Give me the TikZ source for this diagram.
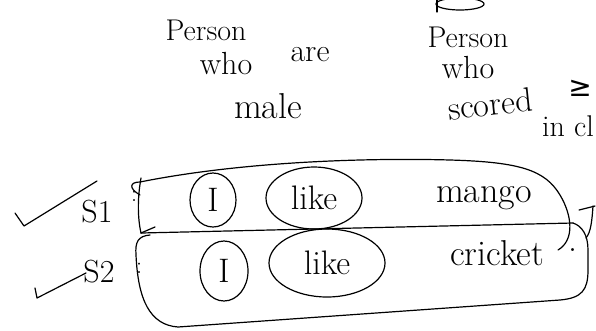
\documentclass[tikz,border=0pt]{standalone}
\usepackage{fontspec}
\newfontfamily\symfont{DejaVu Sans}
\usetikzlibrary{shapes.geometric}
\begin{document}
\begin{tikzpicture}[x=1pt,y=-1pt,
  ink/.style={line width=1.2pt, line cap=round, line join=round},
  word/.style={inner sep=0pt, font=\fontsize{#1}{#1}\selectfont},
  ring/.style={draw, ellipse, line width=1.2pt, inner sep=0pt}]
\useasboundingbox (0,0) rectangle (596,330);

% left note
\node[word=30] (p1) at (206,30) {Person};
\node[word=32] (w1) at (226,64) {who};
\node[word=32] (a1) at (310,55) {are};
\node[word=36] (m1) at (268,106) {male};

% right note, with a scribble above it
\draw[ink] (460,4) ellipse (24pt and 6pt);
\draw[ink] (437,0) -- (437,12);
\node[word=30] (p2) at (468,37) {Person};
\node[word=32] (w2) at (468,68) {who};
\node[word=34, rotate=6] (s2) at (490,104) {scored};
\node[inner sep=0pt, font=\symfont\fontsize{28}{28}\selectfont] (ge) at (580,88) {≥};
\node[word=30, anchor=west] (in) at (542,126) {in cl};

% sentence labels and ticks
\coordinate (t1a) at (15,213);
\coordinate (t1b) at (24,226);
\coordinate (t1c) at (97,181);
\draw[ink] (t1a) -- (t1b) -- (t1c);
\node[word=32] (S1) at (97,212) {S1};
\node[word=24] (c1) at (134,196) {:};

\coordinate (t2a) at (35,288);
\coordinate (t2b) at (37,298);
\coordinate (t2c) at (86,273);
\draw[ink] (t2a) -- (t2b) -- (t2c);
\node[word=32] (S2) at (99,272) {S2};
\node[word=24] (c2) at (139,268) {:};

% box round the first sentence
\draw[ink] (140,195) .. controls (128,188) and (130,182) .. (140,182)
  .. controls (250,160) and (380,158) .. (450,160)
  .. controls (520,162) and (545,170) .. (560,195)
  .. controls (572,215) and (575,240) .. (558,250);
\draw[ink] (141,178) .. controls (137,200) and (138,220) .. (141,233);
\draw[ink] (141,233) -- (155,227);
\draw[ink] (141,233) -- (573,223);

% box round the second sentence
\draw[ink] (150,235) .. controls (138,236) and (135,242) .. (136,255)
  .. controls (138,300) and (150,325) .. (178,327)
  -- (560,300)
  .. controls (582,298) and (588,290) .. (588,270)
  -- (588,250) .. controls (588,235) and (582,226) .. (573,223);

% closing bracket after the first sentence
\draw[ink] (579,210) -- (595,206);
\draw[ink] (593,206) .. controls (592,220) and (591,232) .. (586,238);

% first sentence
\node[ring, word=34, minimum width=46pt, minimum height=54pt] (i1) at (213,200) {I};
\node[ring, word=34, minimum width=96pt, minimum height=62pt] (l1) at (314,198) {like};
\node[word=36] (mg) at (484,198) {mango};

% second sentence
\node[ring, word=34, minimum width=48pt, minimum height=60pt] (i2) at (224,271) {I};
\node[ring, word=34, minimum width=116pt, minimum height=68pt] (l2) at (327,263) {like};
\node[word=36] (ck) at (497,253) {cricket};
\node[word=36] (dt) at (573,250) {.};
\end{tikzpicture}
\end{document}
